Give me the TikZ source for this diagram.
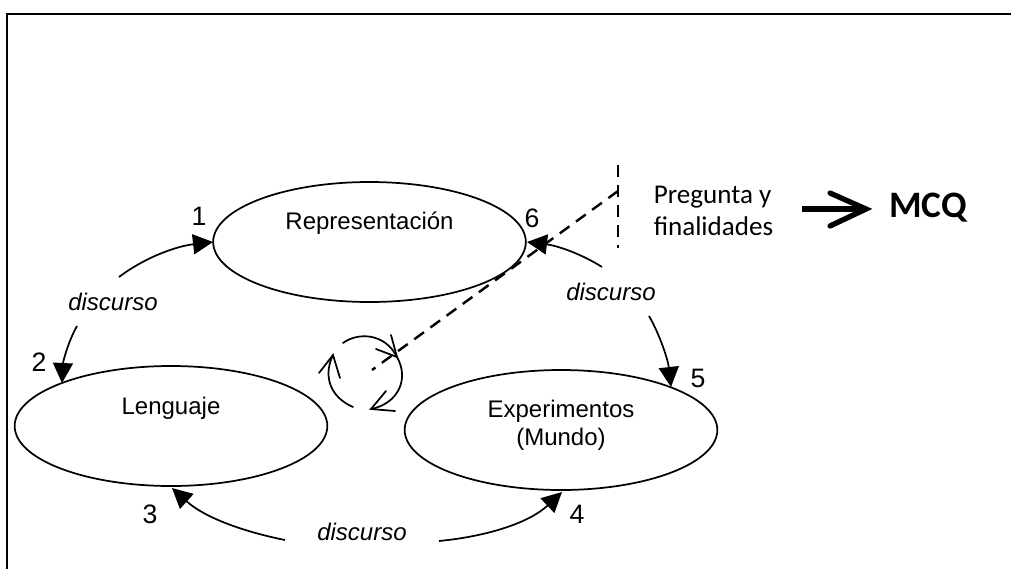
\documentclass[tikz,border=0pt]{standalone}
\usepackage{fontspec}
\setmainfont{Liberation Sans}
\newfontfamily\carl{Carlito}
\usetikzlibrary{arrows.meta,shapes.geometric}
\tikzset{
  x=0.75pt,y=-0.75pt,
  oval/.style={draw=black,line width=1.3pt,ellipse,minimum width=234.5pt,minimum height=90pt,inner sep=0pt},
  ovaltext/.style={inner sep=0pt,align=center,font=\fontsize{18}{20.5}\selectfont},
  num/.style={font=\fontsize{20}{24}\selectfont,inner sep=0pt},
  disc/.style={font=\fontsize{18}{22}\selectfont\itshape,inner sep=0pt},
  flow/.style={line width=1.3pt,-{Triangle[length=15pt,width=15pt]}},
  barb/.style={line width=1.3pt,line cap=round},
  dashline/.style={line width=1.8pt,dash pattern=on 9pt off 6pt},
  lab/.style={font=\carl\fontsize{20.3}{24}\selectfont,inner sep=0pt,align=left},
}
\begin{document}
\begin{tikzpicture}
\useasboundingbox (0,0) rectangle (1011,569);
\draw[line width=1.5pt] (7,569) -- (7,14) -- (1011,14);
\node[oval] (rep) at (369.5,242) {};
\node[oval] (len) at (171,426) {};
\node[oval] (exp) at (561,430) {};
\node[ovaltext,yshift=14pt] (reptext) at (rep.center) {Representación};
\node[ovaltext,yshift=13.5pt] (lentext) at (len.center) {Lenguaje};
\node[ovaltext,yshift=3.5pt] (exptext) at (exp.center) {Experimentos\\(Mundo)};
\node[num] (n1) at (199,216) {1};
\node[num] (n2) at (39,362) {2};
\node[num] (n3) at (150,514) {3};
\node[num] (n4) at (577,514) {4};
\node[num] (n5) at (698,378) {5};
\node[num] (n6) at (532,218) {6};
\node[disc] (d1) at (113,302) {discurso};
\node[disc] (d2) at (611,292) {discurso};
\node[disc] (d3) at (362,532) {discurso};
\node[lab] (q) at (713.5,211) {Pregunta y\\finalidades};
\node[font=\carl\bfseries\fontsize{28}{32}\selectfont,inner sep=0pt] (mcq) at (928,208) {MCQ};
\coordinate (a1s) at (119,277);
\coordinate (a2s) at (77,326);
\coordinate (a3s) at (285,540);
\coordinate (a4s) at (439,541);
\coordinate (a5s) at (649,316);
\coordinate (a6s) at (602,267);
\draw[flow] (a1s) .. controls (147,256) and (178,246) .. (213,242);
\draw[flow] (a2s) .. controls (68,342) and (63,362) .. (62,383);
\draw[flow] (a3s) .. controls (245,532) and (205,518) .. (172,488);
\draw[flow] (a4s) .. controls (490,536) and (530,522) .. (562,492);
\draw[flow] (a5s) .. controls (660,335) and (668,360) .. (671,387);
\draw[flow] (a6s) .. controls (585,256) and (560,246) .. (527,242);
\coordinate (c1) at (343,343);
\coordinate (c2) at (397,357);
\coordinate (c4) at (371,409);
\coordinate (c5) at (353,407);
\coordinate (c6) at (333,355);
\draw[barb] (c1) .. controls (358,332) and (385,333) .. (c2);
\draw[barb] (c2) .. controls (410,380) and (397,404) .. (c4);
\draw[barb] (c5) .. controls (332,398) and (322,378) .. (c6);
\draw[barb] (391,335) -- (c2) -- (376,349);
\draw[barb] (386,391) -- (c4) -- (395,411);
\draw[barb] (319,373) -- (c6) -- (340,378);
\coordinate (dtop) at (618,165);
\coordinate (dbot) at (618,248);
\coordinate (dmid) at (618,191);
\coordinate (dend) at (372,370);
\draw[dashline] (dtop) -- (dbot);
\draw[dashline] (dmid) -- (dend);
\coordinate (as) at (802,209);
\coordinate (ae) at (866,209);
\draw[line width=4pt] (as) -- (ae);
\draw[line width=4pt,line cap=round,line join=miter] (830,193) -- (ae) -- (830,226);
\end{tikzpicture}
\end{document}
